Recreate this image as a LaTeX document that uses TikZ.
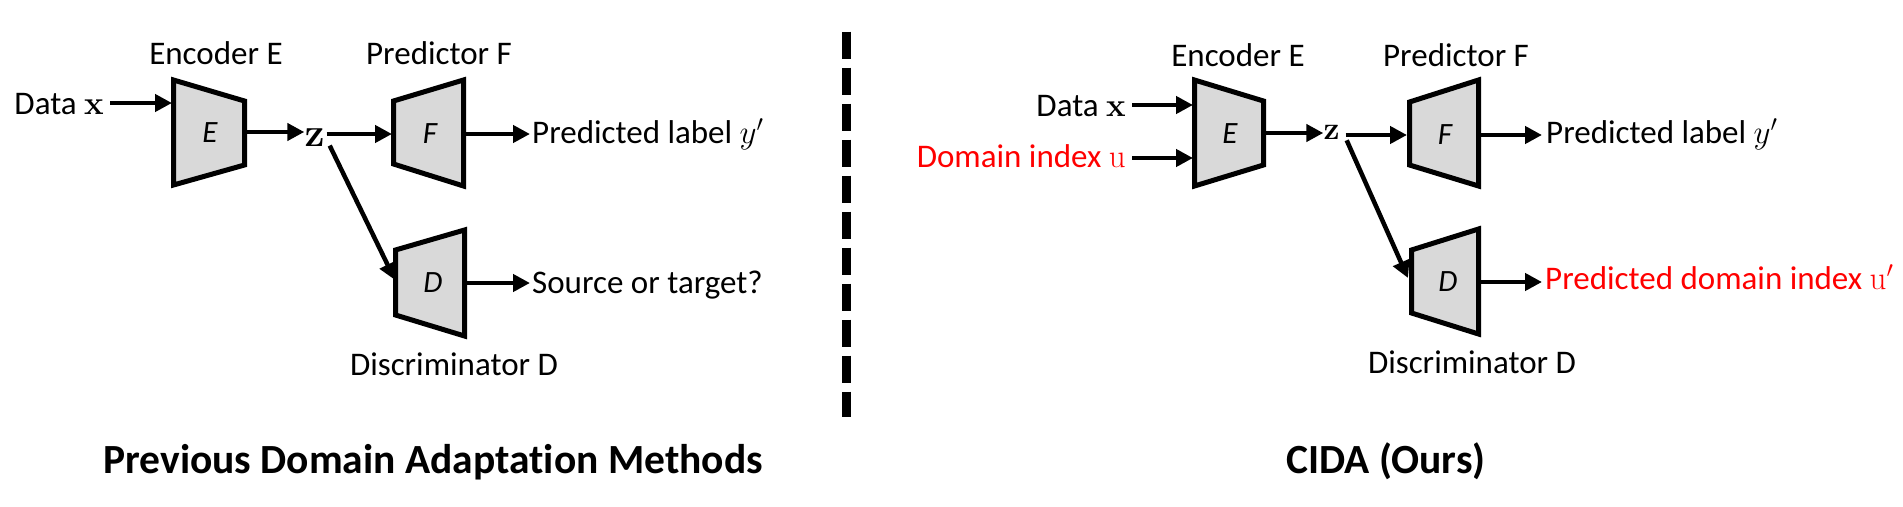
\RequirePackage{fix-cm}
\documentclass[tikz,border=0pt]{standalone}
\usepackage[no-math]{fontspec}
\setmainfont{Carlito}[Ligatures=NoCommon]
\usetikzlibrary{arrows.meta}
\definecolor{boxgray}{HTML}{D9D9D9}
\definecolor{myred}{HTML}{FF0000}
\tikzset{
  trap/.style={draw=black, fill=boxgray, line width=5pt, line join=miter},
  arr/.style={draw=black, line width=4.5pt, -{Triangle[length=17pt,width=17pt]}},
  lab/.style={font=\fontsize{33}{38}\selectfont, inner sep=0pt},
  ttl/.style={font=\fontsize{41.5}{48}\selectfont\bfseries, inner sep=0pt},
  lett/.style={font=\fontsize{31}{36}\selectfont\itshape, inner sep=0pt},
  zbig/.style={font=\fontsize{40}{48}\selectfont, inner sep=0pt},
  zsmall/.style={font=\fontsize{32}{36}\selectfont, inner sep=0pt},
  redtext/.style={text=myred},
  divider/.style={draw=black, line width=9pt, dash pattern=on 27pt off 9pt}
}
\begin{document}
\begin{tikzpicture}[x=1pt,y=-1pt]
\useasboundingbox (0,0) rectangle (1903,506);

% ---------------- left panel ----------------
\draw[trap] (173.5,80) -- (244.5,101) -- (244.5,165) -- (173.5,185) -- cycle;
\draw[trap] (393.5,101) -- (463.5,80) -- (463.5,186) -- (393.5,164) -- cycle;
\draw[trap] (395.5,250) -- (464.5,230) -- (464.5,336) -- (395.5,315) -- cycle;
\coordinate (ELin) at (172,103);
\coordinate (ELout) at (247,132);
\coordinate (FLin) at (392,134);
\coordinate (FLout) at (466,134);
\coordinate (DLin) at (395,280);
\coordinate (DLout) at (467,283);

\node[lett] (EL) at (210,133) {E};
\node[lett] (FL) at (430,134) {F};
\node[lett] (DL) at (433,283) {D};
\node[zbig] (zL) at (314.5,137.5) {$\mathbf{z}$};

\node[lab, anchor=base east] (dataL) at (104,114) {Data $\mathbf{x}$};
\node[lab, anchor=base] (encL) at (216,64) {Encoder E};
\node[lab, anchor=base] (preL) at (439,64) {Predictor F};
\node[lab, anchor=base west] (outFL) at (532,143) {Predicted label $y'$};
\node[lab, anchor=base west] (outDL) at (532,293) {Source or target?};
\node[lab, anchor=base] (disL) at (454,375) {Discriminator D};
\node[ttl, anchor=base] (ttlL) at (433,473) {Previous Domain Adaptation Methods};

\draw[arr] ([shift={(6,-11)}]dataL.base east) -- (ELin);
\draw[arr] (ELout) -- (ELout -| zL.west);
\draw[arr] ([xshift=2]zL.east |- FLin) -- (FLin);
\draw[arr] (FLout) -- ([shift={(-2,-9)}]outFL.base west);
\draw[arr] ([shift={(5,-1)}]zL.south east) -- (DLin);
\draw[arr] (DLout) -- ([shift={(-2,-10)}]outDL.base west);

% ---------------- divider ----------------
\draw[divider] (846.5,31.7) -- (846.5,416.7);

% ---------------- right panel ----------------
\draw[trap] (1194.5,80) -- (1263.5,101) -- (1263.5,165) -- (1194.5,186) -- cycle;
\draw[trap] (1409.5,102) -- (1478.5,80) -- (1478.5,186) -- (1409.5,165) -- cycle;
\draw[trap] (1411.5,250) -- (1478.5,229) -- (1478.5,334) -- (1411.5,313) -- cycle;
\coordinate (ERinA) at (1193,105);
\coordinate (ERinB) at (1193,158);
\coordinate (ERout) at (1266,133);
\coordinate (FRin) at (1407,135);
\coordinate (FRout) at (1481,135);
\coordinate (DRin) at (1408,278);
\coordinate (DRout) at (1481,282);

\node[lett] (ER) at (1230,134) {E};
\node[lett] (FR) at (1445,135) {F};
\node[lett] (DR) at (1448,282) {D};
\node[zsmall] (zR) at (1331.5,132) {$\mathbf{z}$};

\node[lab, anchor=base east] (dataR) at (1126,116) {Data $\mathbf{x}$};
\node[lab, anchor=base east, redtext] (domR) at (1126,167) {Domain index $\mathrm{u}$};
\node[lab, anchor=base] (encR) at (1238,66) {Encoder E};
\node[lab, anchor=base] (preR) at (1456,66) {Predictor F};
\node[lab, anchor=base west] (outFR) at (1546,143) {Predicted label $y'$};
\node[lab, anchor=base west, redtext] (outDR) at (1545,289) {Predicted domain index $\mathrm{u}'$};
\node[lab, anchor=base] (disR) at (1472,373) {Discriminator D};
\node[ttl, anchor=base] (ttlR) at (1386,473) {CIDA (Ours)};

\draw[arr] ([shift={(6,-11)}]dataR.base east) -- (ERinA);
\draw[arr] ([shift={(6,-9)}]domR.base east) -- (ERinB);
\draw[arr] (ERout) -- (ERout -| zR.west);
\draw[arr] ([xshift=6]zR.east |- FRin) -- (FRin);
\draw[arr] (FRout) -- ([shift={(-4,-8)}]outFR.base west);
\draw[arr] ([shift={(7,1)}]zR.south east) -- (DRin);
\draw[arr] (DRout) -- ([shift={(-3,-7)}]outDR.base west);
\end{tikzpicture}
\end{document}
